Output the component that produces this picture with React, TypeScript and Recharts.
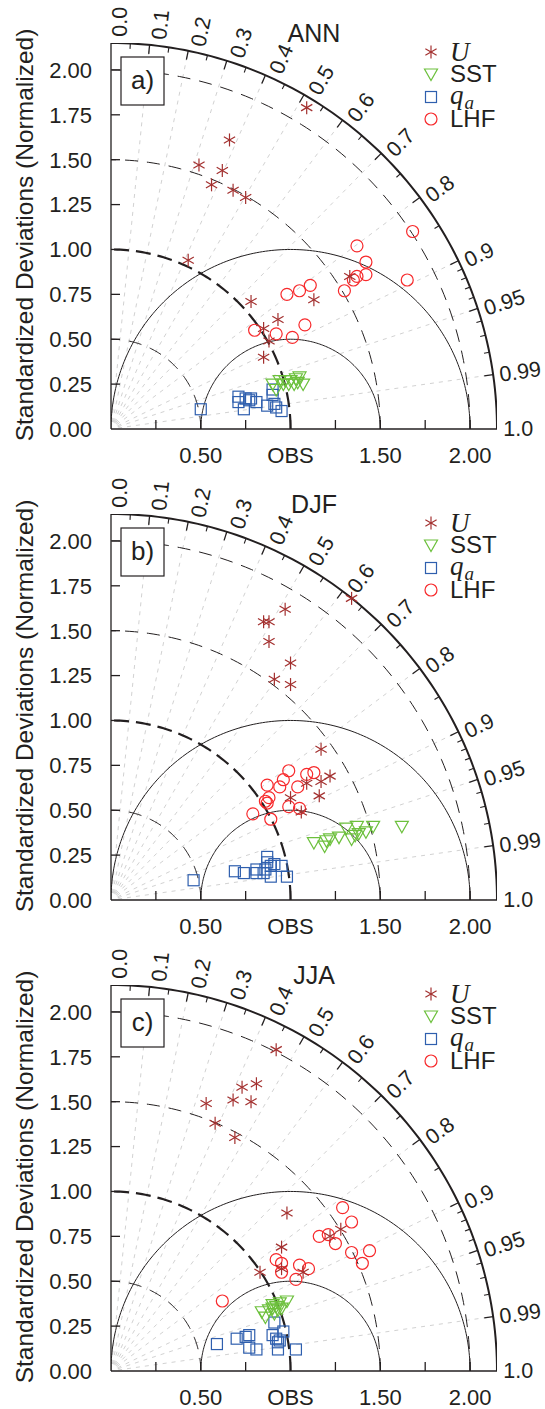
import React from 'react';
import {
  ComposedChart,
  Legend,
  Line,
  ReferenceDot,
  ReferenceLine,
  Scatter,
  XAxis,
  YAxis,
} from 'recharts';

type Pair = [number, number];

// Points are [x, y] in normalized std-dev units (x = s*R, y = s*sqrt(1-R^2))
const annU: Pair[] = [[1.09, 1.79], [0.66, 1.61], [0.49, 1.47], [0.62, 1.44], [0.56, 1.36], [0.68, 1.33], [0.75, 1.29], [0.43, 0.94], [0.78, 0.71], [1.13, 0.72], [1.33, 0.85], [0.93, 0.61], [0.85, 0.56], [0.88, 0.49], [0.85, 0.40]];
const annSST: Pair[] = [[0.90, 0.25], [0.92, 0.22], [0.94, 0.27], [0.97, 0.27], [1.00, 0.27], [1.03, 0.28], [1.04, 0.26], [1.07, 0.25], [1.02, 0.25], [0.96, 0.25], [0.99, 0.25], [1.05, 0.29]];
const annQa: Pair[] = [[0.50, 0.11], [0.71, 0.18], [0.71, 0.15], [0.75, 0.17], [0.77, 0.16], [0.78, 0.17], [0.74, 0.11], [0.81, 0.15], [0.87, 0.13], [0.90, 0.19], [0.91, 0.14], [0.92, 0.12], [0.95, 0.10], [0.90, 0.22]];
const annLHF: Pair[] = [[1.68, 1.10], [1.37, 1.02], [1.42, 0.93], [1.42, 0.86], [1.37, 0.85], [1.35, 0.83], [1.65, 0.83], [1.30, 0.77], [1.11, 0.80], [1.05, 0.77], [0.98, 0.75], [1.08, 0.58], [0.92, 0.53], [1.01, 0.51], [0.80, 0.55]];

const djfU: Pair[] = [[1.34, 1.68], [0.97, 1.62], [0.85, 1.55], [0.88, 1.55], [0.88, 1.44], [1.00, 1.32], [0.91, 1.23], [1.00, 1.20], [1.17, 0.84], [1.22, 0.69], [1.17, 0.66], [1.09, 0.65], [1.16, 0.58], [1.00, 0.57], [1.06, 0.49]];
const djfSST: Pair[] = [[1.62, 0.41], [1.46, 0.41], [1.37, 0.41], [1.31, 0.40], [1.42, 0.38], [1.38, 0.37], [1.36, 0.36], [1.34, 0.34], [1.27, 0.35], [1.22, 0.34], [1.20, 0.33], [1.13, 0.32], [1.19, 0.30]];
const djfQa: Pair[] = [[0.46, 0.11], [0.69, 0.16], [0.74, 0.15], [0.81, 0.17], [0.81, 0.15], [0.87, 0.24], [0.87, 0.21], [0.89, 0.19], [0.86, 0.17], [0.91, 0.20], [0.95, 0.19], [0.89, 0.13], [0.98, 0.13], [0.85, 0.15]];
const djfLHF: Pair[] = [[0.99, 0.72], [0.96, 0.67], [0.87, 0.64], [0.94, 0.63], [1.04, 0.63], [1.09, 0.70], [1.13, 0.71], [0.88, 0.57], [0.86, 0.55], [0.87, 0.54], [0.99, 0.52], [1.05, 0.51], [0.79, 0.48], [0.89, 0.45]];

const jjaU: Pair[] = [[0.92, 1.79], [0.81, 1.60], [0.73, 1.58], [0.53, 1.49], [0.68, 1.51], [0.78, 1.50], [0.58, 1.38], [0.69, 1.30], [0.98, 0.88], [1.28, 0.79], [1.22, 0.75], [0.95, 0.69], [0.83, 0.55], [0.95, 0.57], [1.07, 0.55]];
const jjaSST: Pair[] = [[0.84, 0.33], [0.86, 0.30], [0.88, 0.34], [0.90, 0.35], [0.90, 0.37], [0.92, 0.36], [0.93, 0.34], [0.91, 0.32], [0.94, 0.38], [0.98, 0.39], [0.95, 0.35]];
const jjaQa: Pair[] = [[0.59, 0.15], [0.70, 0.18], [0.75, 0.19], [0.77, 0.20], [0.77, 0.13], [0.81, 0.12], [0.91, 0.27], [0.90, 0.20], [0.92, 0.18], [0.94, 0.17], [0.96, 0.22], [0.93, 0.12], [1.03, 0.12], [0.93, 0.16]];
const jjaLHF: Pair[] = [[1.29, 0.91], [1.34, 0.83], [1.16, 0.75], [1.21, 0.76], [1.25, 0.71], [1.34, 0.66], [1.44, 0.67], [1.40, 0.60], [0.92, 0.62], [0.95, 0.60], [0.95, 0.55], [1.05, 0.59], [1.10, 0.57], [1.03, 0.51], [0.62, 0.39]];

const panels = [
  { title: 'ANN', tag: 'a)', u: annU, sst: annSST, qa: annQa, lhf: annLHF },
  { title: 'DJF', tag: 'b)', u: djfU, sst: djfSST, qa: djfQa, lhf: djfLHF },
  { title: 'JJA', tag: 'c)', u: jjaU, sst: jjaSST, qa: jjaQa, lhf: jjaLHF },
];

const stdTicks = [0, 0.25, 0.5, 0.75, 1, 1.25, 1.5, 1.75, 2];
const xTickText: Record<string, string> = { '0.5': '0.50', '1': 'OBS', '1.5': '1.50', '2': '2.00' };
const corrLabels = [0, 0.1, 0.2, 0.3, 0.4, 0.5, 0.6, 0.7, 0.8, 0.9, 0.95, 0.99, 1];
const corrLabelText = ['0.0', '0.1', '0.2', '0.3', '0.4', '0.5', '0.6', '0.7', '0.8', '0.9', '0.95', '0.99', '1.0'];
const corrMinor = [0.05, 0.15, 0.25, 0.35, 0.45, 0.55, 0.65, 0.75, 0.85, 0.91, 0.92, 0.93, 0.94, 0.96, 0.97, 0.98];
const corrLines = [0.1, 0.2, 0.3, 0.4, 0.5, 0.6, 0.7, 0.8, 0.9, 0.95, 0.99];
const stdArcs = [0.5, 1.0, 1.5, 2.0];
const rmsArcs = [0.5, 1.0];
const R_MAX = 2.15;

const FONT = '"Liberation Sans", Arial, Helvetica, sans-serif';
const SERIF = '"Liberation Serif", "DejaVu Serif", serif';
const INK = '#231f20';
const C_U = '#a3302f';
const C_SST = '#6cc03c';
const C_QA = '#2f5fae';
const C_LHF = '#f7292b';

const W = 545;
const H = 471;

function arc(cx: number, r: number, to: number) {
  const pts = [];
  for (let d = 0; d <= to; d += 1) {
    const a = (d * Math.PI) / 180;
    pts.push({ x: cx + r * Math.cos(a), y: r * Math.sin(a) });
  }
  return pts;
}

const toPts = (arr: Pair[]) => arr.map(([x, y]) => ({ x, y }));
const polar = (r: number, c: number) => ({ x: r * c, y: r * Math.sqrt(1 - c * c) });

function Star({ cx, cy }: any) {
  const s = 6.5;
  const dx = s * Math.cos(Math.PI / 6);
  const dy = s * Math.sin(Math.PI / 6);
  return (
    <g stroke={C_U} strokeWidth={1.2}>
      <line x1={cx} y1={cy - s} x2={cx} y2={cy + s} />
      <line x1={cx - dx} y1={cy - dy} x2={cx + dx} y2={cy + dy} />
      <line x1={cx - dx} y1={cy + dy} x2={cx + dx} y2={cy - dy} />
    </g>
  );
}

function Tri({ cx, cy }: any) {
  return (
    <polygon
      points={`${cx - 6.5},${cy - 5} ${cx + 6.5},${cy - 5} ${cx},${cy + 6.5}`}
      fill="none"
      stroke={C_SST}
      strokeWidth={1.2}
    />
  );
}

function Sq({ cx, cy }: any) {
  return <rect x={cx - 5.5} y={cy - 5.5} width={11} height={11} fill="none" stroke={C_QA} strokeWidth={1.2} />;
}

function Circ({ cx, cy }: any) {
  return <circle cx={cx} cy={cy} r={6} fill="none" stroke={C_LHF} strokeWidth={1.2} />;
}

function LegendBox() {
  const rows = [
    { mark: <Star cx={9} cy={9} />, label: <span style={{ fontFamily: SERIF, fontStyle: 'italic', fontSize: 27 }}>U</span> },
    { mark: <Tri cx={9} cy={9} />, label: <span>SST</span> },
    {
      mark: <Sq cx={9} cy={9} />,
      label: (
        <span style={{ fontFamily: SERIF, fontStyle: 'italic', fontSize: 27 }}>
          q<span style={{ fontSize: 19, position: 'relative', top: 5, marginLeft: 1 }}>a</span>
        </span>
      ),
    },
    { mark: <Circ cx={9} cy={9} />, label: <span>LHF</span> },
  ];
  return (
    <div style={{ fontFamily: FONT, fontSize: 24, color: INK }}>
      {rows.map((r, i) => (
        <div key={i} style={{ display: 'flex', alignItems: 'center', height: 22.5, lineHeight: '22.5px' }}>
          <svg width={18} height={18} style={{ marginRight: 10, flex: 'none' }}>
            {r.mark}
          </svg>
          {r.label}
        </div>
      ))}
    </div>
  );
}

function CorrLabel({ cx, cy, c, text }: any) {
  const ang = (Math.acos(c) * 180) / Math.PI;
  const off = 9 * Math.sin((ang * Math.PI) / 180);
  return (
    <text
      x={cx}
      y={cy}
      dy={off}
      transform={`rotate(${-ang} ${cx} ${cy})`}
      dominantBaseline="central"
      fontSize={21.5}
      fontFamily={FONT}
      fill={INK}
    >
      {text}
    </text>
  );
}

function Taylor({ panel }: { panel: (typeof panels)[number] }) {
  return (
    <div style={{ position: 'relative', width: W, height: H }}>
      <ComposedChart width={W} height={H} margin={{ top: 43, right: 48, bottom: 0, left: 51 }}>
        <XAxis
          type="number"
          dataKey="x"
          domain={[0, R_MAX]}
          allowDataOverflow
          ticks={stdTicks}
          interval={0}
          tickFormatter={(v: number) => xTickText[String(v)] ?? ''}
          tickLine={false}
          tickSize={0}
          tickMargin={18}
          height={42}
          axisLine={{ stroke: INK, strokeWidth: 1.3 }}
          tick={{ fontSize: 22, fill: INK, fontFamily: FONT }}
        />
        <YAxis
          type="number"
          dataKey="y"
          domain={[0, R_MAX]}
          allowDataOverflow
          ticks={stdTicks}
          interval={0}
          tickFormatter={(v: number) => v.toFixed(2)}
          tickLine={false}
          tickSize={0}
          tickMargin={19}
          width={60}
          axisLine={{ stroke: INK, strokeWidth: 1.3 }}
          tick={{ fontSize: 22, fill: INK, fontFamily: FONT }}
        />

        {corrLines.map((c) => (
          <ReferenceLine
            key={`cl${c}`}
            segment={[polar(0.04, c), polar(R_MAX, c)]}
            stroke="#d2d2d2"
            strokeDasharray="4 5"
            strokeWidth={1}
            ifOverflow="visible"
          />
        ))}

        {stdTicks.slice(1).map((v) => (
          <ReferenceLine key={`xt${v}`} segment={[{ x: v, y: 0 }, { x: v, y: 0.05 }]} stroke={INK} strokeWidth={1.3} ifOverflow="visible" />
        ))}
        {stdTicks.slice(1).map((v) => (
          <ReferenceLine key={`yt${v}`} segment={[{ x: 0, y: v }, { x: 0.05, y: v }]} stroke={INK} strokeWidth={1.3} ifOverflow="visible" />
        ))}
        {corrLabels.slice(1, -1).map((c) => (
          <ReferenceLine key={`ct${c}`} segment={[polar(R_MAX - 0.05, c), polar(R_MAX, c)]} stroke={INK} strokeWidth={1.3} ifOverflow="visible" />
        ))}
        {corrMinor.map((c) => (
          <ReferenceLine key={`cm${c}`} segment={[polar(R_MAX - 0.03, c), polar(R_MAX, c)]} stroke={INK} strokeWidth={1.1} ifOverflow="visible" />
        ))}
        {corrLabels.map((c, i) => (
          <ReferenceDot
            key={`lb${c}`}
            x={polar(R_MAX + 0.035, c).x}
            y={polar(R_MAX + 0.035, c).y}
            r={0}
            ifOverflow="visible"
            shape={(p: any) => <CorrLabel cx={p.cx} cy={p.cy} c={c} text={corrLabelText[i]} />}
          />
        ))}

        {stdArcs.map((r) => (
          <Line
            key={`sa${r}`}
            data={arc(0, r, 90)}
            dataKey="y"
            type="linear"
            dot={false}
            activeDot={false}
            stroke={INK}
            strokeWidth={r === 1 ? 2.2 : 1}
            strokeDasharray={r === 1 ? '15 7' : '13 9'}
            isAnimationActive={false}
            legendType="none"
          />
        ))}
        {rmsArcs.map((r) => (
          <Line
            key={`ra${r}`}
            data={arc(1, r, 180)}
            dataKey="y"
            type="linear"
            dot={false}
            activeDot={false}
            stroke={INK}
            strokeWidth={1}
            isAnimationActive={false}
            legendType="none"
          />
        ))}
        <Line
          data={arc(0, R_MAX, 90)}
          dataKey="y"
          type="linear"
          dot={false}
          activeDot={false}
          stroke={INK}
          strokeWidth={2}
          isAnimationActive={false}
          legendType="none"
        />

        <Scatter name="qa" data={toPts(panel.qa)} shape={(p: any) => <Sq cx={p.cx} cy={p.cy} />} isAnimationActive={false} />
        <Scatter name="SST" data={toPts(panel.sst)} shape={(p: any) => <Tri cx={p.cx} cy={p.cy} />} isAnimationActive={false} />
        <Scatter name="LHF" data={toPts(panel.lhf)} shape={(p: any) => <Circ cx={p.cx} cy={p.cy} />} isAnimationActive={false} />
        <Scatter name="U" data={toPts(panel.u)} shape={(p: any) => <Star cx={p.cx} cy={p.cy} />} isAnimationActive={false} />

        <Legend
          layout="horizontal"
          verticalAlign="middle"
          align="center"
          content={() => <LegendBox />}
          wrapperStyle={{ position: 'absolute', left: 422, top: 40.5, width: 120 }}
        />
      </ComposedChart>

      <svg width={W} height={H} style={{ position: 'absolute', left: 0, top: 0, pointerEvents: 'none' }}>
        <text
          x={24}
          y={235}
          transform="rotate(-90 24 235)"
          textAnchor="middle"
          dominantBaseline="central"
          fontSize={24.5}
          fontFamily={FONT}
          fill={INK}
        >
          Standardized Deviations (Normalized)
        </text>
        <text x={314} y={42} textAnchor="middle" fontSize={25} fontFamily={FONT} fill={INK}>
          {panel.title}
        </text>
        <rect x={121} y={57} width={43} height={48} fill="#fff" stroke={INK} strokeWidth={1.2} />
        <text x={142.5} y={89} textAnchor="middle" fontSize={26} fontFamily={FONT} fill={INK}>
          {panel.tag}
        </text>
      </svg>
    </div>
  );
}

export default function App() {
  return (
    <div style={{ position: 'absolute', left: 0, top: 0, width: W, background: '#fff' }}>
      {panels.map((p) => (
        <Taylor key={p.title} panel={p} />
      ))}
    </div>
  );
}
